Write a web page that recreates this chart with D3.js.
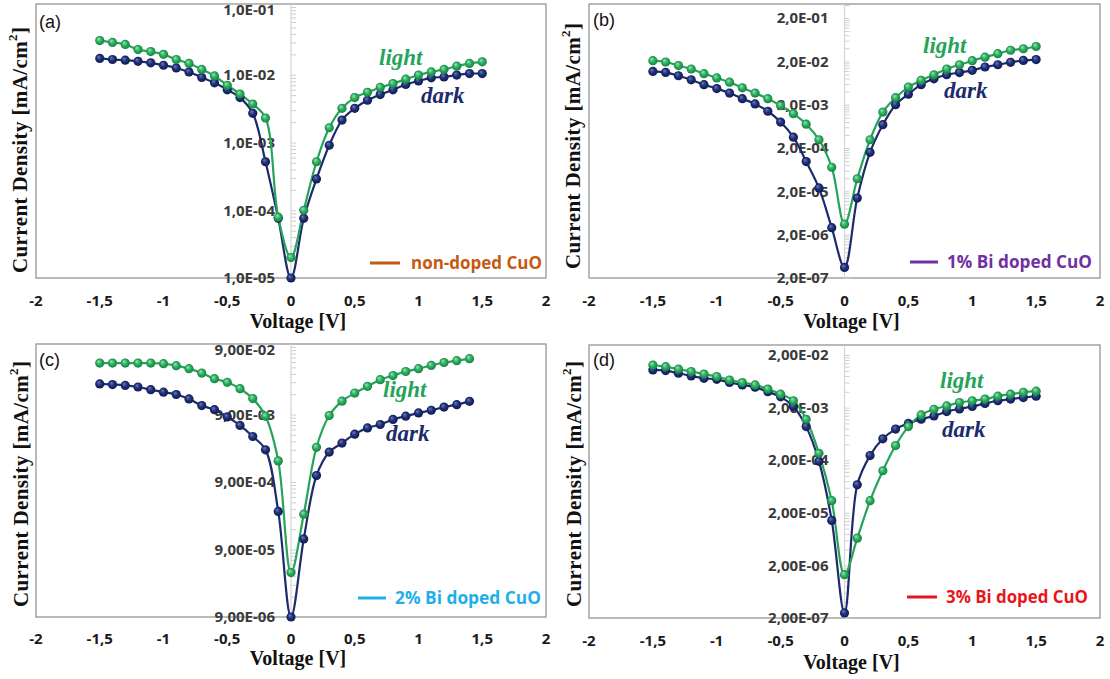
<!DOCTYPE html>
<html>
<head>
<meta charset="utf-8">
<script src="https://cdn.jsdelivr.net/npm/d3@7"></script>
<style>
  html, body { margin: 0; padding: 0; background: #fff; }
  svg { display: block; }
</style>
</head>
<body>
<svg id="chart" width="1110" height="679"></svg>
<script>
// ---------------- DATA ----------------
const voltFull = [-1.5,-1.4,-1.3,-1.2,-1.1,-1.0,-0.9,-0.8,-0.7,-0.6,-0.5,-0.4,-0.3,-0.2,-0.1,0,0.1,0.2,0.3,0.4,0.5,0.6,0.7,0.8,0.9,1.0,1.1,1.2,1.3,1.4,1.5];
const voltC = [-1.5,-1.4,-1.3,-1.2,-1.1,-1.0,-0.9,-0.8,-0.7,-0.6,-0.5,-0.4,-0.3,-0.2,-0.1,0,0.1,0.2,0.3,0.4,0.5,0.6,0.7,0.8,0.9,1.0,1.1,1.2,1.3,1.4];

const xTickValues = [-2,-1.5,-1,-0.5,0,0.5,1,1.5,2];
const xTickLabels = ["-2","-1,5","-1","-0,5","0","0,5","1","1,5","2"];

// (a) non-doped CuO
const aLight = [3.2e-2,3.0e-2,2.8e-2,2.35e-2,2.2e-2,2.0e-2,1.68e-2,1.47e-2,1.2e-2,9.6e-3,7.0e-3,5.2e-3,3.7e-3,2.3e-3,7.9e-5,2.0e-5,1.0e-4,5.2e-4,1.65e-3,3.2e-3,4.6e-3,5.5e-3,6.5e-3,7.4e-3,8.6e-3,9.9e-3,1.1e-2,1.2e-2,1.34e-2,1.47e-2,1.55e-2];
const aDark  = [1.74e-2,1.68e-2,1.64e-2,1.58e-2,1.5e-2,1.38e-2,1.26e-2,1.1e-2,9.1e-3,7.6e-3,6.0e-3,4.6e-3,2.7e-3,5.2e-4,7.6e-5,1.0e-5,7.6e-5,2.9e-4,9.1e-4,2.14e-3,3.2e-3,4.2e-3,5.1e-3,6.0e-3,7.2e-3,8.1e-3,9.0e-3,9.3e-3,9.9e-3,1.04e-2,1.04e-2];
const aTickValues = [1e-5,1e-4,1e-3,1e-2,1e-1];
const aTickLabels = ["1,0E-05","1,0E-04","1,0E-03","1,0E-02","1,0E-01"];

// (b) 1% Bi doped CuO
const bLight = [2.07e-2,1.93e-2,1.6e-2,1.33e-2,1.04e-2,8.3e-3,6.6e-3,4.9e-3,3.7e-3,2.75e-3,1.9e-3,1.24e-3,7.1e-4,3.1e-4,7.2e-5,3.5e-6,3.9e-5,3.1e-4,1.35e-3,2.9e-3,5.1e-3,7.3e-3,9.8e-3,1.33e-2,1.67e-2,2.07e-2,2.5e-2,3.0e-2,3.6e-2,3.9e-2,4.4e-2];
const bDark  = [1.17e-2,1.11e-2,9.3e-3,7.5e-3,5.8e-3,4.7e-3,3.7e-3,2.75e-3,2.08e-3,1.41e-3,7.95e-4,3.56e-4,9.7e-5,2.4e-5,2.9e-6,3.5e-7,1.4e-5,1.59e-4,6.9e-4,2.0e-3,3.5e-3,5.8e-3,7.9e-3,9.8e-3,1.1e-2,1.24e-2,1.48e-2,1.67e-2,1.9e-2,2.1e-2,2.2e-2];
const bTickValues = [2e-7,2e-6,2e-5,2e-4,2e-3,2e-2,2e-1];
const bTickLabels = ["2,0E-07","2,0E-06","2,0E-05","2,0E-04","2,0E-03","2,0E-02","2,0E-01"];

// (c) 2% Bi doped CuO
const cLight = [5.2e-2,5.2e-2,5.2e-2,5.2e-2,5.2e-2,5.1e-2,4.76e-2,4.3e-2,3.7e-2,3.05e-2,2.7e-2,2.17e-2,1.55e-2,8.5e-3,1.85e-3,4.1e-5,3.0e-4,2.94e-3,8.7e-3,1.42e-2,1.87e-2,2.35e-2,2.95e-2,3.4e-2,3.9e-2,4.3e-2,4.8e-2,5.3e-2,5.65e-2,6.05e-2];
const cDark  = [2.55e-2,2.5e-2,2.43e-2,2.3e-2,2.1e-2,1.93e-2,1.78e-2,1.53e-2,1.22e-2,1.06e-2,8.3e-3,6.2e-3,4.25e-3,2.7e-3,3.3e-4,9.0e-6,1.29e-4,1.12e-3,2.5e-3,3.4e-3,4.6e-3,5.7e-3,6.4e-3,7.6e-3,8.5e-3,9.5e-3,1.04e-2,1.16e-2,1.26e-2,1.41e-2];
const cTickValues = [9e-6,9e-5,9e-4,9e-3,9e-2];
const cTickLabels = ["9,00E-06","9,00E-05","9,00E-04","9,00E-03","9,00E-02"];

// (d) 3% Bi doped CuO
const dLight = [1.29e-2,1.2e-2,1.08e-2,9.7e-3,8.7e-3,7.8e-3,6.7e-3,6.0e-3,5.4e-3,4.5e-3,3.6e-3,2.7e-3,1.2e-3,2.7e-4,3.4e-5,1.33e-6,6.6e-6,3.4e-5,1.26e-4,3.8e-4,8.7e-4,1.45e-3,1.86e-3,2.15e-3,2.5e-3,2.7e-3,2.9e-3,3.3e-3,3.6e-3,3.9e-3,4.1e-3];
const dDark  = [1.04e-2,1.01e-2,9.0e-3,8.0e-3,7.2e-3,6.9e-3,6.0e-3,5.4e-3,4.9e-3,4.0e-3,3.2e-3,2.1e-3,8.7e-4,1.9e-4,1.43e-5,2.5e-7,6.8e-5,2.45e-4,5.1e-4,7.8e-4,1.0e-3,1.2e-3,1.39e-3,1.68e-3,1.89e-3,2.1e-3,2.4e-3,2.7e-3,2.9e-3,3.1e-3,3.3e-3];
const dTickValues = [2e-7,2e-6,2e-5,2e-4,2e-3,2e-2];
const dTickLabels = ["2,00E-07","2,00E-06","2,00E-05","2,00E-04","2,00E-03","2,00E-02"];

const panelLetters = ["(a)","(b)","(c)","(d)"];
const legendNames = ["non-doped CuO","1% Bi doped CuO","2% Bi doped CuO","3% Bi doped CuO"];
const seriesNames = ["light","dark"];

// ---------------- STYLE / LAYOUT ----------------
const legendColors = ["#C55A11","#7030A0","#1EAEEA","#E8161C"];
const greenCol = "#26A35A", navyCol = "#1C2B6C";

const panels = [
  {volt: voltFull, light: aLight, dark: aDark, tv: aTickValues, tl: aTickLabels,
   left: 36, right: 546, top: 4, bottom: 278, yBot: 278, yTop: 7,
   xLab: 306, xTitle: 328, yTitleX: 20, yTitleY: 150, letter: [39, 28],
   lightPos: [379, 65], darkPos: [421, 103], legY: 263, legLine: [370, 400], legText: 411, legW: 131},
  {volt: voltFull, light: bLight, dark: bDark, tv: bTickValues, tl: bTickLabels,
   left: 589, right: 1100, top: 4, bottom: 278, yBot: 278, yTop: 18,
   xLab: 306, xTitle: 328, yTitleX: 573, yTitleY: 146, letter: [593, 26],
   lightPos: [923, 53], darkPos: [944, 98], legY: 262, legLine: [910, 938], legText: 947, legW: 145},
  {volt: voltC, light: cLight, dark: cDark, tv: cTickValues, tl: cTickLabels,
   left: 36, right: 546, top: 344, bottom: 617, yBot: 617, yTop: 347,
   xLab: 644, xTitle: 665, yTitleX: 21, yTitleY: 484, letter: [39, 366],
   lightPos: [383, 397], darkPos: [386, 441], legY: 598, legLine: [358, 386], legText: 395, legW: 146},
  {volt: voltFull, light: dLight, dark: dDark, tv: dTickValues, tl: dTickLabels,
   left: 589, right: 1100, top: 345, bottom: 618, yBot: 618, yTop: 355,
   xLab: 646, xTitle: 669, yTitleX: 574, yTitleY: 484, letter: [593, 366],
   lightPos: [940, 388], darkPos: [942, 437], legY: 597, legLine: [907, 937], legText: 946, legW: 142}
];

const svg = d3.select("#chart");
const defs = svg.append("defs");
function sphere(id, c0, c1, c2) {
  const g = defs.append("radialGradient").attr("id", id)
    .attr("cx", "50%").attr("cy", "50%").attr("r", "55%").attr("fx", "35%").attr("fy", "30%");
  g.append("stop").attr("offset", "0%").attr("stop-color", c0);
  g.append("stop").attr("offset", "50%").attr("stop-color", c1);
  g.append("stop").attr("offset", "100%").attr("stop-color", c2);
}
sphere("gGreen", "#9be6b4", "#2cae5f", "#137a3d");
sphere("gNavy", "#6c7cc0", "#1f2f78", "#0e1848");

const sansBold = "'Open Sans', Roboto, 'Liberation Sans', sans-serif";
const serif = "'Liberation Serif', 'DejaVu Serif', serif";

panels.forEach((p, i) => {
  const g = svg.append("g");
  const x = d3.scaleLinear().domain([-2, 2]).range([p.left, p.right]);
  const y = d3.scaleLog().domain([p.tv[0], p.tv[p.tv.length - 1]]).range([p.yBot, p.yTop]);

  // frame
  g.append("rect").attr("x", p.left).attr("y", p.top)
    .attr("width", p.right - p.left).attr("height", p.bottom - p.top)
    .attr("fill", "#fff").attr("stroke", "#8c8c8c").attr("stroke-width", 1.2);

  // y axis at V = 0 with log minor ticks
  const minor = [];
  p.tv.forEach(v => { for (let k = 1; k <= 9; k++) { const val = v * k; if (y(val) >= p.top - 0.5) minor.push(val); } });
  const yAxis = d3.axisRight(y).tickValues(minor).tickFormat("").tickSize(5).tickSizeOuter(0);
  const ya = g.append("g").attr("transform", `translate(${x(0)},0)`).call(yAxis);
  ya.select(".domain").remove();
  ya.selectAll(".tick line").attr("stroke", "#cfcfcf").attr("stroke-width", 1);
  ya.append("line").attr("x1", 0).attr("x2", 0).attr("y1", p.top).attr("y2", p.bottom)
    .attr("stroke", "#d4d4d4").attr("stroke-width", 1.2);

  // y tick labels
  g.selectAll(".ylab").data(p.tv).join("text")
    .attr("x", x(0) - 16).attr("y", d => Math.max(y(d), p.top + 6))
    .attr("dy", "0.35em").attr("text-anchor", "end")
    .attr("font-family", sansBold).attr("font-weight", 700).attr("font-size", 15)
    .attr("fill", "#3a3a3a")
    .text((d, j) => p.tl[j]);

  // x tick labels
  g.selectAll(".xlab").data(xTickValues).join("text")
    .attr("x", d => x(d)).attr("y", p.xLab).attr("text-anchor", "middle")
    .attr("font-family", sansBold).attr("font-weight", 700).attr("font-size", 15)
    .attr("fill", "#1a1a1a")
    .text((d, j) => xTickLabels[j]);

  // axis titles
  g.append("text").attr("x", (p.left + p.right) / 2 + 7).attr("y", p.xTitle)
    .attr("text-anchor", "middle").attr("font-family", serif).attr("font-weight", 700)
    .attr("font-size", 20).attr("fill", "#111").text("Voltage [V]");
  const yt = g.append("text")
    .attr("transform", `translate(${p.yTitleX},${p.yTitleY}) rotate(-90)`)
    .attr("text-anchor", "middle").attr("dominant-baseline", "central")
    .attr("font-family", serif).attr("font-weight", 700).attr("font-size", 21)
    .attr("fill", "#111").attr("textLength", 246).attr("lengthAdjust", "spacing");
  yt.append("tspan").text("Current  Density  [mA/cm");
  yt.append("tspan").attr("baseline-shift", "super").attr("font-size", 13).text("2");
  yt.append("tspan").text("]");

  // panel letter
  g.append("text").attr("x", p.letter[0]).attr("y", p.letter[1])
    .attr("font-family", "'Liberation Sans', Arial, sans-serif").attr("font-size", 18)
    .attr("fill", "#111").text(panelLetters[i]);

  // series
  const line = d3.line().x(d => x(d[0])).y(d => y(d[1])).curve(d3.curveCatmullRom.alpha(0.5));
  const series = [
    {vals: p.dark, col: navyCol, grad: "url(#gNavy)"},
    {vals: p.light, col: greenCol, grad: "url(#gGreen)"}
  ];
  series.forEach(s => {
    const pts = p.volt.map((v, j) => [v, s.vals[j]]);
    g.append("path").datum(pts).attr("d", line)
      .attr("fill", "none").attr("stroke", s.col).attr("stroke-width", 2.2);
  });
  series.forEach(s => {
    const pts = p.volt.map((v, j) => [v, s.vals[j]]);
    g.selectAll(null).data(pts).join("circle")
      .attr("cx", d => x(d[0])).attr("cy", d => y(d[1])).attr("r", 4.6)
      .attr("fill", s.grad);
  });

  // light / dark labels
  g.append("text").attr("x", p.lightPos[0]).attr("y", p.lightPos[1])
    .attr("font-family", serif).attr("font-weight", 700).attr("font-style", "italic")
    .attr("font-size", 23).attr("fill", greenCol).text(seriesNames[0]);
  g.append("text").attr("x", p.darkPos[0]).attr("y", p.darkPos[1])
    .attr("font-family", serif).attr("font-weight", 700).attr("font-style", "italic")
    .attr("font-size", 23).attr("fill", navyCol).text(seriesNames[1]);

  // legend
  g.append("line").attr("x1", p.legLine[0]).attr("x2", p.legLine[1])
    .attr("y1", p.legY).attr("y2", p.legY)
    .attr("stroke", legendColors[i]).attr("stroke-width", 3);
  g.append("text").attr("x", p.legText).attr("y", p.legY).attr("dy", "0.35em")
    .attr("font-family", "'Open Sans', Roboto, sans-serif").attr("font-weight", 700)
    .attr("font-size", 17).attr("fill", legendColors[i])
    .attr("textLength", p.legW).attr("lengthAdjust", "spacingAndGlyphs")
    .text(legendNames[i]);
});
</script>
</body>
</html>
